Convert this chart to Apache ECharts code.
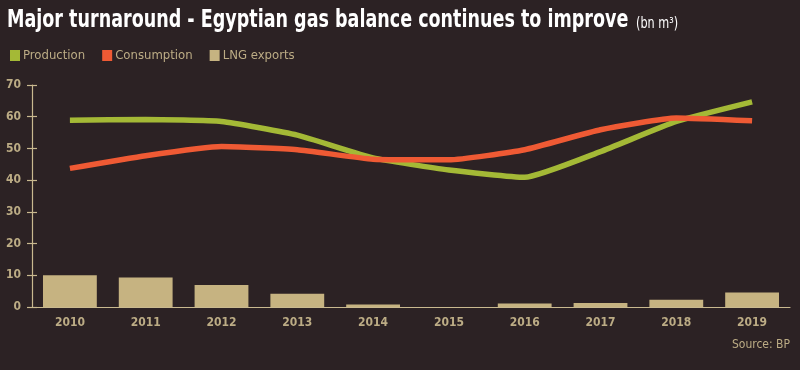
<!DOCTYPE html>
<html>
<head>
<meta charset="utf-8">
<script src="https://cdn.jsdelivr.net/npm/echarts@6/dist/echarts.min.js"></script>
<style>
html,body{margin:0;padding:0;background:#2c2224;}
#chart{width:800px;height:370px;}
</style>
</head>
<body>
<div id="chart"></div>
<script>
const years = ['2010','2011','2012','2013','2014','2015','2016','2017','2018','2019'];
const production = [58.9, 59.1, 58.5, 54.2, 47.0, 43.2, 40.9, 49.0, 58.5, 64.7];
const consumption = [43.7, 47.7, 50.6, 49.6, 46.6, 46.4, 49.6, 55.9, 59.6, 58.7];
const lngExports = [10.0, 9.3, 6.9, 4.2, 0.8, 0.0, 1.1, 1.3, 2.3, 4.6];
const yTicks = [0, 10, 20, 30, 40, 50, 60, 70];

const FONT = "'DejaVu Sans Condensed','Liberation Sans Narrow',sans-serif";
const TAN = '#bcac85';
const AXIS = '#c9b98f';

const chart = echarts.init(document.getElementById('chart'), null, {renderer:'canvas'});
chart.setOption({
  backgroundColor: '#2c2224',
  animation: false,
  legend: {
    left: 5, top: 44,
    itemWidth: 10, itemHeight: 11, itemGap: 17,
    icon: 'rect',
    textStyle: { color: TAN, fontFamily: FONT, fontSize: 13, fontWeight: 'normal', padding:[0,0,0,-2] },
    data: [
      {name:'Production', itemStyle:{color:'#a4b936'}},
      {name:'Consumption', itemStyle:{color:'#ef5a34'}},
      {name:'LNG exports', itemStyle:{color:'#c6b381'}}
    ]
  },
  graphic: [{
    type: 'text', x: 7, y: 8, scaleX: 0.78, scaleY: 1,
    style: {
      text: 'Major turnaround - Egyptian gas balance continues to improve {s|(bn m³)}',
      fill: '#ffffff', font: "bold 25px " + FONT,
      rich: { s: { fill: '#ffffff', font: "16px " + FONT, padding:[6,0,0,2] } }
    }
  },{
    type: 'text', right: 10, top: 339,
    style: { text: 'Source: BP', fill: TAN, font: "12px " + FONT }
  }],
  grid: { left: 32, right: 10, top: 85, bottom: 63, containLabel: false },
  xAxis: {
    type: 'category', data: years, boundaryGap: true,
    axisLine: { show: true, lineStyle: { color: AXIS, width: 1.2 } },
    axisTick: { show: false },
    axisLabel: { color: TAN, fontFamily: FONT, fontSize: 12, fontWeight: 'bold', margin: 10 }
  },
  yAxis: [{
    type: 'value', min: yTicks[0], max: yTicks[yTicks.length-1], interval: 10,
    axisLine: { show: true, lineStyle: { color: AXIS, width: 1.2 } },
    axisTick: { show: true, length: 5, lineStyle: { color: AXIS, width: 1.2 } },
    axisLabel: { color: TAN, fontFamily: FONT, fontSize: 12, fontWeight: 'bold', margin: 11 },
    splitLine: { show: false }
  },{
    type: 'value', min: yTicks[0], max: yTicks[yTicks.length-1], interval: 10, position: 'left',
    axisLine: { show: false },
    axisTick: { show: true, inside: true, length: 5, lineStyle: { color: AXIS, width: 1.2 } },
    axisLabel: { show: false },
    splitLine: { show: false }
  }],
  series: [
    {
      name: 'LNG exports', type: 'bar', data: lngExports, barCategoryGap: '29%',
      itemStyle: { color: '#c6b381' }, z: 2
    },
    {
      name: 'Production', type: 'line', data: production, smooth: 0.15,
      symbol: 'none', lineStyle: { color: '#a4b936', width: 5.5 }, itemStyle:{color:'#a4b936'}, z: 3
    },
    {
      name: 'Consumption', type: 'line', data: consumption, smooth: 0.15,
      symbol: 'none', lineStyle: { color: '#ef5a34', width: 5.5 }, itemStyle:{color:'#ef5a34'}, z: 4
    }
  ]
});
</script>
</body>
</html>
